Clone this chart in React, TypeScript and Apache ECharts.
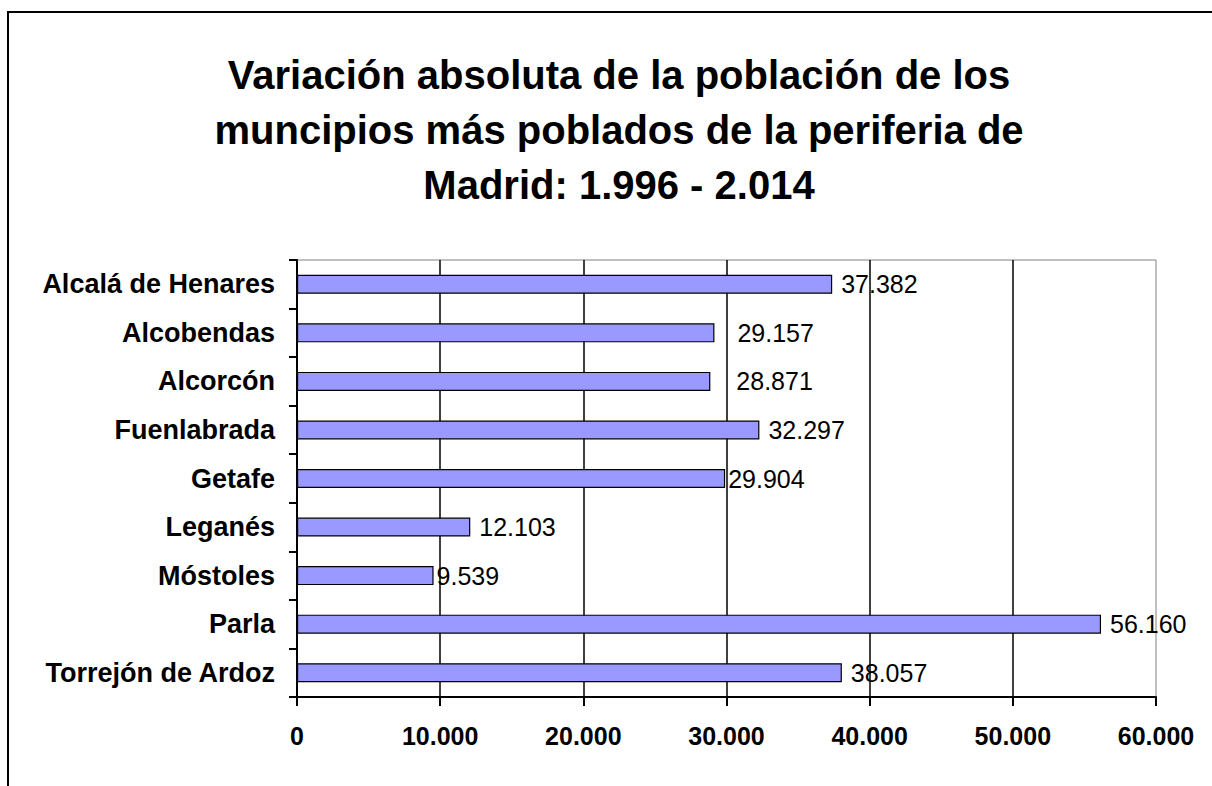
import React, { useEffect, useRef } from "react";
import * as echarts from "echarts";

const titleLines = [
  "Variación absoluta de la población de los",
  "muncipios más poblados de la periferia de",
  "Madrid: 1.996 - 2.014",
];
const categories = [
  "Alcalá de Henares",
  "Alcobendas",
  "Alcorcón",
  "Fuenlabrada",
  "Getafe",
  "Leganés",
  "Móstoles",
  "Parla",
  "Torrejón de Ardoz",
];
const variation = [37382, 29157, 28871, 32297, 29904, 12103, 9539, 56160, 38057];
const labelGap = [9, 23, 26, 9, 3, 9, 3, 9, 9];
const axisMax = 60000;
const axisStep = 10000;

const fmt = (n: number) => String(n).replace(/\B(?=(\d{3})+(?!\d))/g, ".");
const FONT = '"Liberation Sans", Arial, sans-serif';

export default function App() {
  const ref = useRef<HTMLDivElement>(null);
  useEffect(() => {
    if (!ref.current) return;
    const chart = echarts.init(ref.current, undefined, { renderer: "svg" });
    chart.setOption({
      animation: false,
      backgroundColor: "#ffffff",
      title: {
        text: titleLines.join("\n"),
        left: 619,
        top: 47,
        padding: 0,
        textAlign: "center",
        textStyle: {
          fontFamily: FONT,
          fontSize: 40,
          fontWeight: "bold",
          color: "#000",
          lineHeight: 55,
        },
      },
      graphic: [
        {
          type: "rect",
          shape: { x: 8, y: 12, width: 1400, height: 1000 },
          style: { fill: "none", stroke: "#000", lineWidth: 2 },
          silent: true,
          z: 100,
        },
      ],
      grid: {
        left: 297,
        top: 260,
        right: 56,
        bottom: 89,
        containLabel: false,
        show: true,
        backgroundColor: "#fff",
        borderColor: "#808080",
        borderWidth: 1,
      },
      xAxis: {
        type: "value",
        min: 0,
        max: axisMax,
        interval: axisStep,
        axisLine: { show: true, lineStyle: { color: "#000", width: 2 } },
        axisTick: { show: true, length: 9, lineStyle: { color: "#000", width: 2 } },
        splitLine: {
          show: true,
          showMinLine: false,
          showMaxLine: false,
          lineStyle: { color: "#000", width: 1.5 },
        },
        axisLabel: {
          margin: 26,
          fontFamily: FONT,
          fontSize: 25,
          fontWeight: "bold",
          color: "#000",
          formatter: (v: number) => fmt(v),
        },
      },
      yAxis: {
        type: "category",
        data: categories,
        inverse: true,
        axisLine: { show: true, lineStyle: { color: "#000", width: 2 } },
        axisTick: { show: true, length: 8, lineStyle: { color: "#000", width: 2 } },
        splitLine: { show: false },
        axisLabel: {
          margin: 22,
          fontFamily: FONT,
          fontSize: 27,
          fontWeight: "bold",
          color: "#000",
        },
      },
      series: [
        {
          type: "bar",
          data: variation.map((v, i) => ({ value: v, label: { distance: labelGap[i] } })),
          barWidth: 19,
          itemStyle: { color: "#9999ff", borderColor: "#000", borderWidth: 1.2 },
          label: {
            show: true,
            position: "right",
            distance: 9,
            fontFamily: FONT,
            fontSize: 25,
            color: "#000",
            formatter: (p: any) => fmt(p.value),
          },
        },
      ],
    });
    return () => chart.dispose();
  }, []);
  return (
    <div
      ref={ref}
      style={{ position: "fixed", left: 0, top: 0, width: 1212, height: 786 }}
    />
  );
}
